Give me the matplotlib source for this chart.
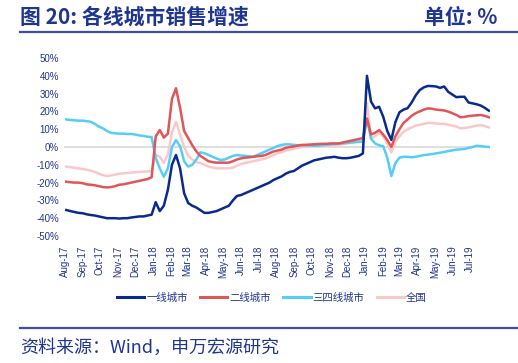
import matplotlib
matplotlib.use("Agg")
import matplotlib.pyplot as plt
import matplotlib.dates as mdates
from matplotlib.lines import Line2D
import pandas as pd

plt.rcParams['font.family'] = ['Liberation Sans', 'Noto Sans CJK SC', 'DejaVu Sans']

# weekly observations, Aug-2017 .. Aug-2019
dates = pd.date_range('2017-08-04', periods=105, freq='7D')
month_ticks = pd.date_range('2017-08-01', '2019-07-01', freq='MS')

tier1 = [-35.4, -36, -36.5, -37, -37.2, -37.8, -38.2, -38.5, -39, -39.5,
         -40, -40, -40, -40.2, -40, -40, -39.6, -39.3, -39, -39,
         -38.5, -38, -31, -36, -33, -24, -10, -4.5, -12, -26,
         -31.5, -33, -34, -35.5, -37, -37, -36.5, -36, -35, -34,
         -33, -30, -27.5, -27, -26, -25, -24, -23, -22, -21,
         -20, -18.5, -17.5, -16.5, -15, -14, -13.5, -12, -10.5, -9.5,
         -8.5, -7.5, -7, -6.5, -6, -5.8, -5.5, -6, -6.3, -6.3,
         -6, -5.5, -5, -3.6, 40, 25.5, 21.7, 22.6, 17, 9,
         4, 14, 19.5, 21, 21.8, 25, 29, 32, 33.5, 34.3,
         34.2, 34, 33.2, 34, 31, 29.5, 28, 28.2, 28.2, 25,
         24.5, 24, 23.3, 22, 20.4]

tier2 = [-19.5, -19.8, -20, -20, -20.3, -21, -21.2, -21.5, -22, -22.5,
         -22.7, -22.5, -22, -21.2, -21, -20.5, -20, -19.5, -19, -18.5,
         -18, -17, 6, 9.5, 5.3, 7.5, 27, 33, 22, 9,
         5, 1, -2.5, -5, -6.5, -8, -8.5, -8.8, -8.8, -8.8,
         -8.8, -8, -7, -6.4, -6, -5.8, -5.5, -5.2, -5, -4.5,
         -3.5, -2.5, -2, -1.5, -0.5, 0, 0.3, 0.8, 1.1, 1.2,
         1.4, 1.5, 1.7, 1.8, 1.8, 2, 2, 2, 2.5, 3,
         3.5, 4, 4.5, 5, 16, 7, 8, 9.5, 7, 3.9,
         0, 6, 10, 13.5, 15.5, 17.5, 19, 20, 21, 21.7,
         21.5, 21, 20.8, 20.5, 19.9, 19, 18, 16.7, 16.9, 17.4,
         17.6, 17.8, 18, 17.5, 16.7]

tier34 = [15.5, 15.2, 15, 14.8, 14.8, 14.5, 14.2, 13, 11.5, 10.5,
          9, 8, 7.7, 7.5, 7.5, 7.3, 7.3, 7, 6.5, 6.2,
          5.8, 5.5, -6, -12, -16.7, -12, 0, 3.9, 0.4, -8,
          -11, -10, -7, -3, -3.5, -4.5, -5.5, -6.5, -7.3, -7,
          -6, -5, -4.5, -4.8, -5, -5.2, -5.5, -4.5, -3.5, -2.5,
          -1.5, -0.5, 0.5, 1.2, 1.5, 1.5, 1.2, 1, 1.1, 1,
          0.8, 0.7, 0.7, 1, 1.2, 1.5, 1.7, 1.8, 2, 2.3,
          2.5, 2.8, 3, 3, 15.8, 4.7, 2, 1, 0.4, -6,
          -16.3, -9, -6, -5.5, -5.5, -5.8, -5.5, -5, -4.5, -4.3,
          -4, -3.6, -3.2, -2.8, -2.3, -1.9, -1.5, -1.3, -1.1, -0.5,
          0, 0.7, 0.5, 0.2, 0]

national = [-11, -11.3, -11.7, -12, -12.4, -12.7, -13.3, -14, -15, -15.8,
            -16.3, -16, -15.5, -15, -14.8, -14.6, -14.4, -14.2, -14, -13.8,
            -13.7, -13.5, -4.5, -5.4, -9, -4, 8, 14.2, 7, 0,
            -5, -7, -8.5, -9, -10, -11, -11.5, -12, -12, -12,
            -12, -11.5, -10.5, -9.5, -9, -8.5, -8, -7.5, -7, -6.5,
            -5.5, -4.5, -3.5, -3, -2, -1.5, -1, -0.5, 0, 0.2,
            0.4, 0.6, 0.7, 0.8, 0.9, 1, 1.1, 1.3, 1.6, 2,
            2.3, 2.6, 2.8, 3, 24.7, 5, 6, 8, 6, 2,
            -3, 3, 6, 8.5, 10, 11, 12, 12.5, 13, 13.5,
            13.5, 13.3, 13, 13, 12.5, 12, 11.5, 10.5, 10.7, 11,
            11.5, 12, 12.3, 11.8, 11]

labels = ['一线城市', '二线城市', '三四线城市', '全国']
colors = ['#0A2B8E', '#E05558', '#55CDF7', '#F9C9C9']
navy = '#1F3590'

fig = plt.figure(figsize=(5.18, 3.63), dpi=100)
ax = fig.add_axes([64/518, 1 - 236/363, 426/518, 178/363])

ax.axhline(0, color='#D9D9D9', lw=1.2, zorder=1)
series = [national, tier34, tier2, tier1]
cols = [colors[3], colors[2], colors[1], colors[0]]
for vals, c in zip(series, cols):
    ax.plot(dates, vals, color=c, lw=1.8, zorder=2)

ax.set_ylim(-50, 50)
ax.set_yticks(range(-50, 51, 10))
ax.set_yticklabels(['%d%%' % v for v in range(-50, 51, 10)])
ax.set_xlim(pd.Timestamp('2017-07-31'), pd.Timestamp('2019-08-04'))
ax.set_xticks(month_ticks)
ax.xaxis.set_major_formatter(mdates.DateFormatter('%b-%y'))
for s in ax.spines.values():
    s.set_visible(False)
ax.tick_params(axis='both', length=0, labelsize=7, labelcolor=navy)
ax.tick_params(axis='x', pad=7)
plt.setp(ax.get_xticklabels(), rotation=90)

handles = [Line2D([], [], color=c, lw=2.2) for c in colors]
fig.legend(handles, labels, loc='center', bbox_to_anchor=(272/518, 1 - 298/363),
           ncol=4, frameon=False, handlelength=2.6,
           handletextpad=0.2, columnspacing=1.2, labelcolor=navy,
           prop={'family': ['Noto Sans CJK SC'], 'size': 7.5})

cjk = ['Noto Sans CJK SC', 'DejaVu Sans']
fig.text(20/518, 1 - 17/363, '图 20: 各线城市销售增速', fontsize=15, fontweight='bold',
         color=navy, va='center', ha='left', family=cjk)
fig.text(497/518, 1 - 17/363, '单位: %', fontsize=15, fontweight='bold',
         color=navy, va='center', ha='right', family=cjk)
fig.add_artist(Line2D([20/518, 1], [1 - 32/363] * 2, color='#3D4CA8', lw=1.6))
fig.add_artist(Line2D([20/518, 1], [1 - 328/363] * 2, color='#3D4CA8', lw=1.6))
fig.text(20/518, 1 - 348/363, '资料来源：Wind，申万宏源研究', fontsize=13,
         color=navy, va='center', ha='left', family=cjk)

fig.savefig('out.png', dpi=100)
